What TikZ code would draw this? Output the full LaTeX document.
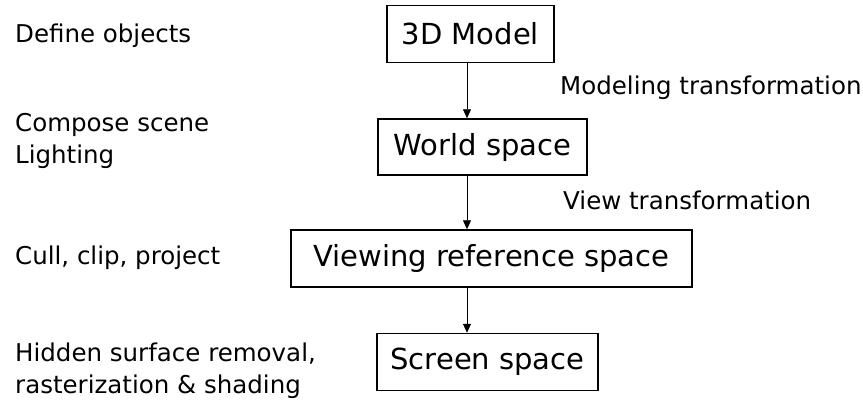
\documentclass[tikz,border=0pt]{standalone}
\usepackage{fontspec}
\setmainfont{DejaVu Sans}
\usetikzlibrary{arrows.meta}
\begin{document}
\begin{tikzpicture}[x=1pt,y=-1pt,
  stage/.style={draw=black,line width=1.5pt,inner sep=0pt,font=\fontsize{29}{33}\selectfont},
  note/.style={anchor=west,inner sep=0pt,align=left,font=\fontsize{24.5}{32}\selectfont},
  flow/.style={line width=0.8pt,-{Triangle[length=9pt,width=8pt]}}]
\useasboundingbox (0,0) rectangle (863,402);
\node[stage,minimum width=167pt,minimum height=57pt] (model) at (470.5,34) {3D Model};
\node[stage,minimum width=209pt,minimum height=56pt] (world) at (482.5,147) {World space};
\node[stage,minimum width=401pt,minimum height=57pt] (view) at (491.5,258.5) {Viewing reference space};
\node[stage,minimum width=221pt,minimum height=57pt] (screen) at (487.5,362) {Screen space};
\draw[flow] (model.south -| 467,0) -- (world.north -| 467,0);
\draw[flow] (world.south -| 467,0) -- (view.north -| 467,0);
\draw[flow] (view.south -| 467,0) -- (screen.north -| 467,0);
\node[note] (t1) at (560,88) {Modeling transformation};
\node[note] (t2) at (563,200) {View transformation};
\node[note] (l1) at (15,36) {Define objects};
\node[note] (l2) at (15,141) {Compose scene\\Lighting};
\node[note] (l3) at (15,258) {Cull, clip, project};
\node[note] (l4) at (15,371) {Hidden surface removal,\\rasterization \& shading};
\end{tikzpicture}
\end{document}
